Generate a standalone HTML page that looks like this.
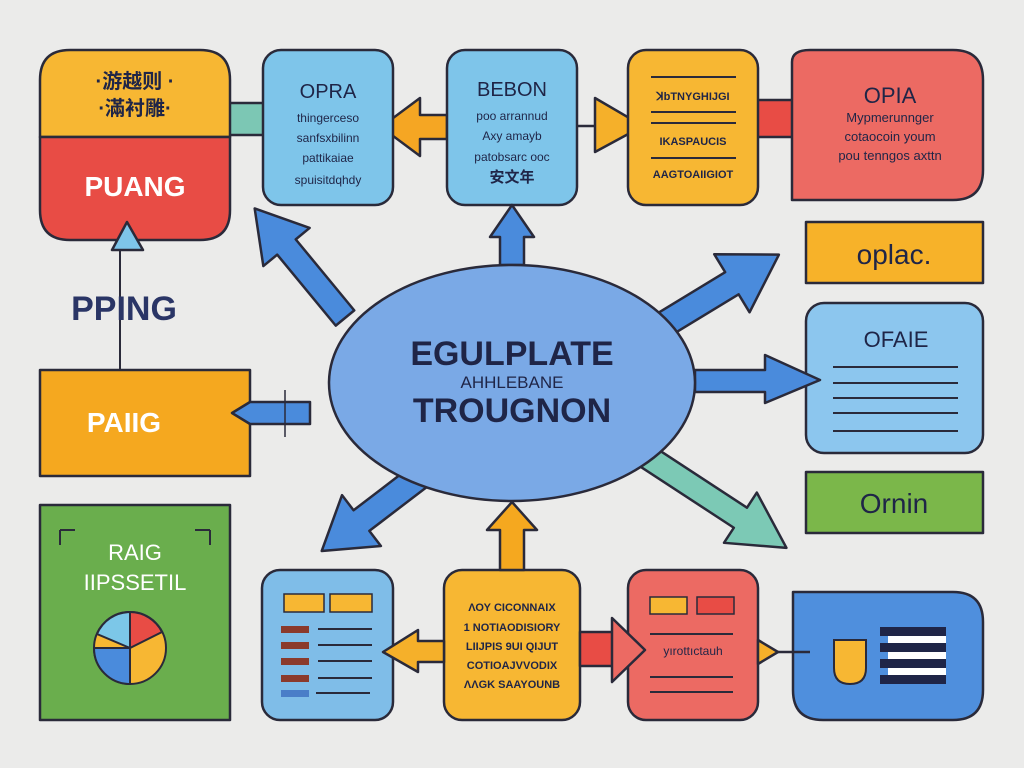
<!DOCTYPE html>
<html><head><meta charset="utf-8"><style>
html,body{margin:0;padding:0;background:#ebebea;}
svg{display:block}
text{font-family:"Liberation Sans","Noto Sans CJK SC",sans-serif;fill:#1f2547}
</style></head><body>
<svg width="1024" height="768" viewBox="0 0 1024 768" xmlns="http://www.w3.org/2000/svg">
<rect width="1024" height="768" fill="#ebebea"/>
<g stroke="#2a2a3a" stroke-width="2.5" stroke-linejoin="round">
<rect x="228" y="103" width="38" height="32" fill="#7cc7b4"/>
<polygon points="447,115 420,115 420,98 381,127 420,156 420,139 447,139" fill="#f5a623"/>
<line x1="577" y1="126" x2="596" y2="126"/>
<polygon points="595,98 643,126 595,152" fill="#f5b02a"/>
<rect x="756" y="100" width="47" height="37" fill="#e84c45"/>
<path d="M70,50 H200 Q230,50 230,80 V137 H40 V80 Q40,50 70,50Z" fill="#f7b733"/>
<path d="M40,137 H230 V210 Q230,240 200,240 H70 Q40,240 40,210Z" fill="#e84c45"/>
<rect x="263" y="50" width="130" height="155" rx="18" fill="#7ec5ea"/>
<rect x="447" y="50" width="130" height="155" rx="18" fill="#7ec5ea"/>
<rect x="628" y="50" width="130" height="155" rx="18" fill="#f7b733"/>
<path d="M792,62 Q792,50 810,50 H953 Q983,50 983,80 V170 Q983,200 953,200 H792Z" fill="#ec6a63"/>
<rect x="806" y="222" width="177" height="61" fill="#f7b229"/>
<rect x="806" y="303" width="177" height="150" rx="18" fill="#8cc6ee"/>
<rect x="806" y="472" width="177" height="61" fill="#7bb74a"/>
<rect x="40" y="370" width="210" height="106" fill="#f5a81f"/>
<rect x="40" y="505" width="190" height="215" fill="#6aae4d"/>
<rect x="262" y="570" width="131" height="150" rx="18" fill="#7fbde8"/>
<rect x="444" y="570" width="136" height="150" rx="18" fill="#f7b733"/>
<rect x="628" y="570" width="130" height="150" rx="18" fill="#ec6a63"/>
<path d="M793,592 H953 Q983,592 983,622 V690 Q983,720 953,720 H823 Q793,720 793,690Z" fill="#4f8fdd"/>
<!-- diagonal arrows -->
<polygon transform="translate(345,318) rotate(230.5)" points="0,-12 92,-12 92,-30 142,0 92,30 92,12 0,12" fill="#4a8bdc"/>
<polygon transform="translate(655,330) rotate(-31.3)" points="0,-13 90,-13 90,-34 145,0 90,34 90,13 0,13" fill="#4a8bdc"/>
<polygon transform="translate(640,452) rotate(33.2)" points="0,-12 120,-12 120,-30 175,0 120,30 120,12 0,12" fill="#7cc9b5"/>
<polygon transform="translate(425,472) rotate(142.6)" points="0,-13 80,-13 80,-32 130,0 80,32 80,13 0,13" fill="#4a8bdc"/>
<polygon points="500,265 500,237 490,237 512,205 534,237 524,237 524,265" fill="#4a8bdc"/>
<polygon points="695,370 765,370 765,355 820,380 765,403 765,392 695,392" fill="#4a8bdc"/>
<polygon points="500,570 500,530 487,530 512,502 537,530 524,530 524,570" fill="#f5a81f"/>
<polygon points="310,402 250,402 232,413 250,424 310,424" fill="#4a8bdc"/>
<ellipse cx="512" cy="383" rx="183" ry="118" fill="#7aa9e6"/>
<polygon points="444,641 418,641 418,630 383,652 418,672 418,662 444,662" fill="#f5b02a"/>
<rect x="580" y="632" width="33" height="34" fill="#e84c45"/>
<polygon points="612,618 645,650 612,682" fill="#ec6a63"/>
<polygon points="758,640 778,652 758,664" fill="#f5b02a"/>
<line x1="778" y1="652" x2="810" y2="652"/>
<polygon points="127,222 112,250 143,250" fill="#7ec5ea"/>
</g>
<line x1="120" y1="250" x2="120" y2="370" stroke="#2a2a3a" stroke-width="2"/>
<line x1="285" y1="390" x2="285" y2="437" stroke="#2a2a3a" stroke-width="1.5"/>
<text x="135" y="88" font-size="20" font-weight="bold" text-anchor="middle">·游越则 ·</text>
<text x="135" y="115" font-size="20" font-weight="bold" text-anchor="middle">·滿衬雕·</text>
<text x="135" y="196" font-size="28" font-weight="bold" text-anchor="middle" style="fill:#fff">PUANG</text>
<text x="328" y="98" font-size="20" text-anchor="middle">OPRA</text>
<g font-size="12" text-anchor="middle"><text x="328" y="122">thingercesо</text><text x="328" y="142">sanfsxbilinn</text><text x="328" y="162">pattikaiae</text><text x="328" y="184">spuisitdqhdy</text></g>
<text x="512" y="96" font-size="20" text-anchor="middle">BEBON</text>
<g font-size="12" text-anchor="middle"><text x="512" y="120">poo arrannud</text><text x="512" y="140">Axy amayb</text><text x="512" y="161">patobsarc ooc</text><text x="512" y="182" font-weight="bold" font-size="15">安文年</text></g>
<g font-size="11" text-anchor="middle" font-weight="bold"><text x="693" y="100">ꓘbTNYGHIJGI</text><text x="693" y="145">IKASPAUCIS</text><text x="693" y="178">AAGTOAIIGIOT</text></g>
<g stroke="#2a2a3a" stroke-width="2"><line x1="651" y1="77" x2="736" y2="77"/><line x1="651" y1="112" x2="736" y2="112"/><line x1="651" y1="123" x2="736" y2="123"/><line x1="651" y1="158" x2="736" y2="158"/></g>
<text x="890" y="103" font-size="22" text-anchor="middle">OPIA</text>
<g font-size="13" text-anchor="middle"><text x="890" y="122">Mypmerunnger</text><text x="890" y="141">cotaocoin youm</text><text x="890" y="160">pou tenngos axttn</text></g>
<text x="894" y="264" font-size="28" text-anchor="middle">oplac.</text>
<text x="896" y="347" font-size="22" text-anchor="middle">OFAIE</text>
<g stroke="#2a2a3a" stroke-width="2"><line x1="833" y1="367" x2="958" y2="367"/><line x1="833" y1="383" x2="958" y2="383"/><line x1="833" y1="398" x2="958" y2="398"/><line x1="833" y1="413" x2="958" y2="413"/><line x1="833" y1="431" x2="958" y2="431"/></g>
<text x="894" y="513" font-size="28" text-anchor="middle">Ornin</text>
<text x="124" y="320" font-size="34" font-weight="bold" text-anchor="middle" style="fill:#2a3566">PPING</text>
<text x="124" y="432" font-size="28" font-weight="bold" text-anchor="middle" style="fill:#fff">PAIIG</text>
<text x="135" y="560" font-size="22" text-anchor="middle" style="fill:#fff">RAIG</text>
<text x="135" y="590" font-size="22" text-anchor="middle" style="fill:#fff">IIPSSETIL</text>
<g stroke="#2a2a3a" stroke-width="2"><path d="M60,530 V545 M60,530 H75 M210,530 V545 M210,530 H195" fill="none"/>
<circle cx="130" cy="648" r="36" fill="#f7b733"/>
<path d="M130,648 L130,612 A36,36 0 0 1 162,632Z" fill="#e84c45"/>
<path d="M130,648 L94,648 A36,36 0 0 0 130,684Z" fill="#4a8bdc"/>
<path d="M130,648 L130,612 A36,36 0 0 0 97,634Z" fill="#7cc7e8"/></g>
<text x="512" y="365" font-size="34" font-weight="bold" text-anchor="middle">EGULPLATE</text>
<text x="512" y="388" font-size="17" text-anchor="middle">AHHLEBANE</text>
<text x="512" y="422" font-size="34" font-weight="bold" text-anchor="middle">TROUGNON</text>
<g stroke="#2a2a3a" stroke-width="1.5"><rect x="284" y="594" width="40" height="18" fill="#f7b733"/><rect x="330" y="594" width="42" height="18" fill="#f7b733"/></g>
<g fill="#8b3a2c"><rect x="281" y="626" width="28" height="7"/><rect x="281" y="642" width="28" height="7"/><rect x="281" y="658" width="28" height="7"/><rect x="281" y="675" width="28" height="7"/></g>
<rect x="281" y="690" width="28" height="7" fill="#4a7ec8"/>
<g stroke="#2a2a3a" stroke-width="2"><line x1="318" y1="629" x2="372" y2="629"/><line x1="318" y1="645" x2="372" y2="645"/><line x1="318" y1="661" x2="372" y2="661"/><line x1="318" y1="678" x2="372" y2="678"/><line x1="316" y1="693" x2="370" y2="693"/></g>
<g font-size="11" text-anchor="middle" font-weight="bold"><text x="512" y="611">ΛΟΥ CICONNAIX</text><text x="512" y="631">1 NOTIAODISIORY</text><text x="512" y="650">LIIJPIS 9UI QIJUT</text><text x="512" y="669">COTIOAJVVODIX</text><text x="512" y="688">ΛΛGK SAAYOUNB</text></g>
<g stroke="#2a2a3a" stroke-width="1.5"><rect x="650" y="597" width="37" height="17" fill="#f7b733"/><rect x="697" y="597" width="37" height="17" fill="#e84c45"/></g>
<text x="693" y="655" font-size="12" text-anchor="middle">yırottıctauh</text>
<g stroke="#2a2a3a" stroke-width="2"><line x1="650" y1="634" x2="733" y2="634"/><line x1="650" y1="677" x2="733" y2="677"/><line x1="650" y1="692" x2="733" y2="692"/></g>
<path d="M834,640 H866 V668 Q866,684 850,684 Q834,684 834,668Z" fill="#f7b733" stroke="#2a2a3a" stroke-width="2"/>
<g fill="#1f2547"><rect x="880" y="627" width="66" height="9"/><rect x="880" y="643" width="66" height="9"/><rect x="880" y="659" width="66" height="9"/><rect x="880" y="675" width="66" height="9"/></g>
<g fill="#fff"><rect x="888" y="636" width="58" height="7"/><rect x="888" y="652" width="58" height="7"/><rect x="888" y="668" width="58" height="7"/></g>
</svg>
</body></html>
